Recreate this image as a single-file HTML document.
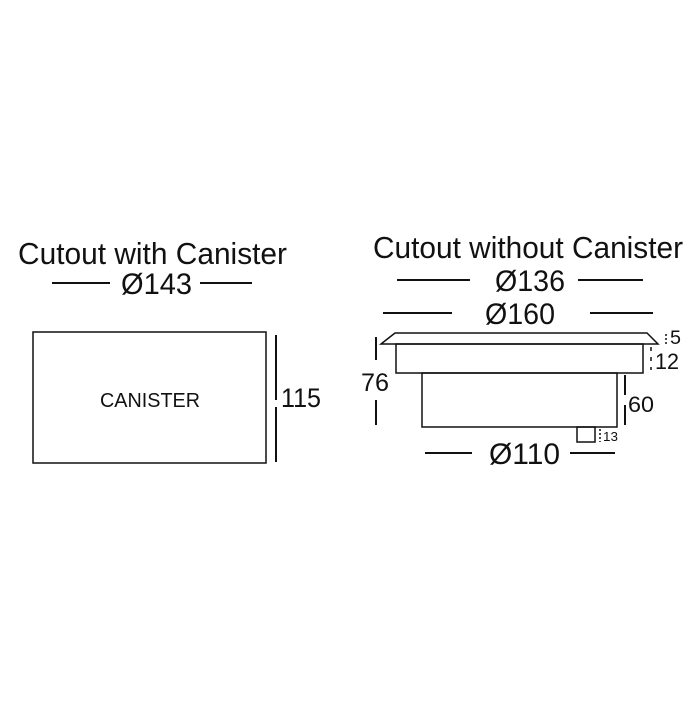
<!DOCTYPE html>
<html><head><style>html,body{margin:0;padding:0;background:#fff}</style></head>
<body>
<svg width="700" height="700" viewBox="0 0 700 700" xmlns="http://www.w3.org/2000/svg" font-family="Liberation Sans, sans-serif" fill="#111">
<text x="18" y="264" font-size="31" textLength="269" lengthAdjust="spacingAndGlyphs">Cutout with Canister</text>
<text x="373" y="258" font-size="31" textLength="310" lengthAdjust="spacingAndGlyphs">Cutout without Canister</text>
<g stroke="#111" stroke-width="2">
<line x1="52" y1="283" x2="110" y2="283"/><line x1="200" y1="283" x2="252" y2="283"/>
<line x1="397" y1="280" x2="470" y2="280"/><line x1="578" y1="280" x2="643" y2="280"/>
<line x1="383" y1="313" x2="452" y2="313"/><line x1="590" y1="313" x2="653" y2="313"/>
<line x1="425" y1="453" x2="472" y2="453"/><line x1="570" y1="453" x2="615" y2="453"/>
<line x1="276" y1="335" x2="276" y2="400"/><line x1="276" y1="407" x2="276" y2="462"/>
<line x1="376" y1="337" x2="376" y2="360"/><line x1="376" y1="400" x2="376" y2="425"/>
<line x1="625" y1="375" x2="625" y2="395"/><line x1="625" y1="405" x2="625" y2="425"/>
</g>
<g stroke="#111" stroke-width="1.5" fill="none">
<rect x="33" y="332" width="233" height="131"/>
<polygon points="395,333 647,333 658,344 381,344"/>
<rect x="396" y="344" width="247" height="29"/>
<rect x="422" y="373" width="195" height="54"/>
<rect x="577" y="427" width="18" height="15"/>
<line x1="666" y1="334" x2="666" y2="344" stroke-dasharray="2,2"/>
<line x1="651" y1="347" x2="651" y2="370" stroke-dasharray="4,6"/>
<line x1="600" y1="429" x2="600" y2="442" stroke-dasharray="2,2"/>
</g>
<text x="121" y="294" font-size="30" textLength="71" lengthAdjust="spacingAndGlyphs">Ø143</text>
<text x="495" y="291" font-size="30" textLength="70" lengthAdjust="spacingAndGlyphs">Ø136</text>
<text x="485" y="324" font-size="30" textLength="70" lengthAdjust="spacingAndGlyphs">Ø160</text>
<text x="489" y="464" font-size="30" textLength="71" lengthAdjust="spacingAndGlyphs">Ø110</text>
<text x="100" y="407" font-size="20" textLength="100" lengthAdjust="spacingAndGlyphs">CANISTER</text>
<text x="281" y="407" font-size="27" textLength="40" lengthAdjust="spacingAndGlyphs">115</text>
<text x="361" y="391" font-size="25" textLength="28" lengthAdjust="spacingAndGlyphs">76</text>
<text x="670" y="344" font-size="19" textLength="11" lengthAdjust="spacingAndGlyphs">5</text>
<text x="655" y="369" font-size="22" textLength="24" lengthAdjust="spacingAndGlyphs">12</text>
<text x="628" y="412" font-size="22" textLength="26" lengthAdjust="spacingAndGlyphs">60</text>
<text x="603" y="441" font-size="13" textLength="15" lengthAdjust="spacingAndGlyphs">13</text>
</svg>
</body></html>
